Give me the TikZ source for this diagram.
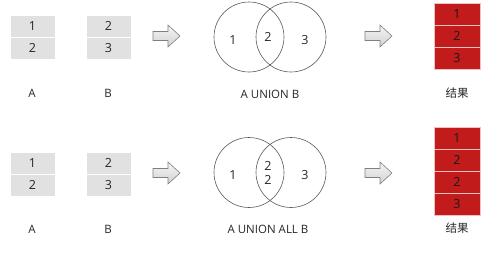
\documentclass[tikz,border=0pt]{standalone}
\usepackage{fontspec}
\setmainfont{Open Sans}
\newfontfamily\cjk{Noto Sans CJK SC}
\definecolor{cellgray}{HTML}{E1E1E1}
\definecolor{cellred}{HTML}{C21B1B}
\definecolor{redline}{HTML}{F0C0C0}
\definecolor{circline}{HTML}{5A5A5A}
\begin{document}
\begin{tikzpicture}[x=1pt,y=-1pt,
  graycell/.style={draw=white,line width=0.8pt,fill=cellgray,minimum width=45pt,minimum height=22pt,inner sep=0pt,font=\fontsize{12.5}{14}\selectfont,text=black!85},
  redcell/.style={draw=redline,line width=0.8pt,fill=cellred,minimum width=46pt,minimum height=22pt,inner sep=0pt,font=\fontsize{12.5}{14}\selectfont,text=black!90},
  lbl/.style={font=\fontsize{11.5}{13}\selectfont,text=black!85,inner sep=0pt},
  num/.style={font=\fontsize{12.5}{14}\selectfont,text=black!85,inner sep=0pt,align=center},
  venn/.style={draw=circline,line width=0.6pt},
  blockarrow/.style={draw=black!50,line width=0.6pt,top color=gray!8,bottom color=gray!35}]
\useasboundingbox (0,0) rectangle (504,263);
% ---------- top row ----------
\node[graycell] (a1) at (32.5,26) {1};
\node[graycell] (a2) at (32.5,48) {2};
\node[graycell] (b1) at (108.5,26) {2};
\node[graycell] (b2) at (108.5,48) {3};
\node[lbl] (la) at (32,93) {A};
\node[lbl] (lb) at (108,93) {B};
\path[blockarrow] (153,31.5) -- (168,31.5) -- (168,25) -- (180,36) -- (168,47) -- (168,40.5) -- (153,40.5) -- cycle;
\node[venn,circle,minimum size=70pt,inner sep=0pt] (vl) at (249,37) {};
\node[venn,circle,minimum size=70pt,inner sep=0pt] (vr) at (291,37) {};
\node[num] (n1) at (233,40) {1};
\node[num] (n2) at (268,37) {2};
\node[num] (n3) at (305,40) {3};
\node[lbl] (lu) at (270,94) {A UNION B};
\path[blockarrow] (365,31.5) -- (380,31.5) -- (380,25) -- (392,36) -- (380,47) -- (380,40.5) -- (365,40.5) -- cycle;
\node[redcell] (r1) at (457,14) {1};
\node[redcell] (r2) at (457,36) {2};
\node[redcell] (r3) at (457,58) {3};
\node[lbl] (lr) at (457,93) {\cjk 结果};
% ---------- bottom row ----------
\node[graycell] (c1) at (32.5,163) {1};
\node[graycell] (c2) at (32.5,185) {2};
\node[graycell] (d1) at (108.5,163) {2};
\node[graycell] (d2) at (108.5,185) {3};
\node[lbl] (lc) at (32,229) {A};
\node[lbl] (ld) at (108,229) {B};
\path[blockarrow] (153,168.5) -- (168,168.5) -- (168,162) -- (180,173) -- (168,184) -- (168,177.5) -- (153,177.5) -- cycle;
\node[venn,circle,minimum size=70pt,inner sep=0pt] (wl) at (249,172.5) {};
\node[venn,circle,minimum size=70pt,inner sep=0pt] (wr) at (291,172.5) {};
\node[num] (m1) at (233,175) {1};
\node[num] (m2) at (268,173) {2\\[0pt]2};
\node[num] (m3) at (305,175) {3};
\node[lbl] (lv) at (268,229) {A UNION ALL B};
\path[blockarrow] (365,168.5) -- (380,168.5) -- (380,162) -- (392,173) -- (380,184) -- (380,177.5) -- (365,177.5) -- cycle;
\node[redcell] (s1) at (457,138) {1};
\node[redcell] (s2) at (457,160) {2};
\node[redcell] (s3) at (457,182) {2};
\node[redcell] (s4) at (457,204) {3};
\node[lbl] (ls) at (457,228) {\cjk 结果};
\end{tikzpicture}
\end{document}
